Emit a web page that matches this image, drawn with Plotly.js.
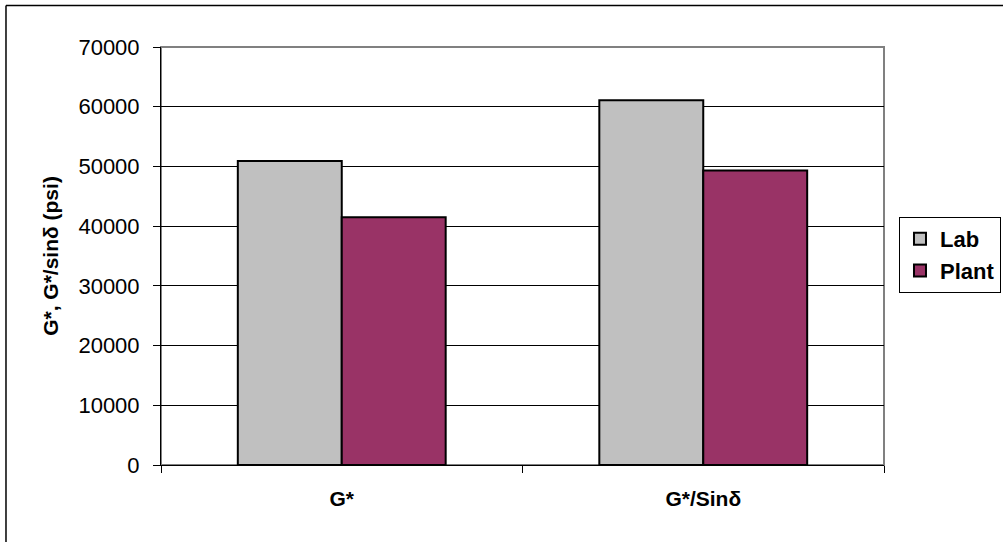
<!DOCTYPE html>
<html>
<head>
<meta charset="utf-8">
<script src="https://cdn.plot.ly/plotly-3.0.1.min.js"></script>
<style>
  html, body { margin: 0; padding: 0; background: #ffffff; }
  #chart { width: 1003px; height: 542px; }
</style>
</head>
<body>
<div id="chart"></div>
<script>
// Binder stiffness parameters, lab-mixed vs plant-mixed
const categories = ["G*", "G*/Sin\u03b4"];
const labValues = [50900, 61100];
const plantValues = [41500, 49300];
const seriesNames = ["Lab", "Plant"];
const yTickValues = [0, 10000, 20000, 30000, 40000, 50000, 60000, 70000];

const FONT = '"Liberation Sans", Arial, sans-serif';

const traces = [
  {
    type: "bar",
    name: seriesNames[0],
    x: categories,
    y: labValues,
    marker: { color: "#C0C0C0", line: { color: "#000000", width: 2 } },
    hoverinfo: "none"
  },
  {
    type: "bar",
    name: seriesNames[1],
    x: categories,
    y: plantValues,
    marker: { color: "#993366", line: { color: "#000000", width: 2 } },
    hoverinfo: "none"
  }
];

const layout = {
  width: 1003,
  height: 542,
  autosize: false,
  paper_bgcolor: "#ffffff",
  plot_bgcolor: "#ffffff",
  margin: { l: 161, r: 119, t: 47, b: 77, pad: 0, autoexpand: false },
  barmode: "group",
  bargap: 0.425,
  bargroupgap: 0,
  font: { family: FONT, color: "#000000" },
  showlegend: true,
  legend: {
    xref: "container", yref: "container",
    x: 0.8963, xanchor: "left",
    y: 0.5996, yanchor: "top",
    bgcolor: "#ffffff",
    bordercolor: "#000000",
    borderwidth: 1,
    font: { family: FONT, size: 22, color: "#000000", weight: "bold" },
    itemwidth: 30,
    tracegroupgap: 0
  },
  xaxis: {
    type: "category",
    showgrid: false,
    showline: true,
    linecolor: "#000000",
    linewidth: 1,
    ticks: "outside",
    tickson: "boundaries",
    ticklen: 7,
    tickcolor: "#000000",
    tickwidth: 1,
    ticklabelstandoff: 15,
    tickfont: { family: FONT, size: 21, color: "#000000", weight: "bold" },
    zeroline: false,
    fixedrange: true
  },
  yaxis: {
    range: [0, 70000],
    tickvals: yTickValues,
    tickformat: "d",
    showgrid: true,
    gridcolor: "#000000",
    gridwidth: 1,
    showline: true,
    linecolor: "#000000",
    linewidth: 1,
    ticks: "outside",
    ticklen: 7,
    tickcolor: "#000000",
    tickwidth: 1,
    ticklabelstandoff: 9,
    tickfont: { family: FONT, size: 22, color: "#000000" },
    zeroline: false,
    fixedrange: true,
    title: {
      text: "G*, G*/sin\u03b4 (psi)",
      font: { family: FONT, size: 21, color: "#000000", weight: "bold" },
      standoff: 14
    }
  },
  shapes: [
    // plot area frame
    {
      type: "rect", xref: "paper", yref: "paper",
      x0: 0, x1: 1, y0: 0, y1: 1,
      line: { color: "#808080", width: 2 },
      layer: "below"
    },
    // outer chart border (top and left edges)
    {
      type: "line", xref: "paper", yref: "paper",
      x0: -0.2144, x1: 1.2, y0: 1.0995, y1: 1.0995,
      line: { color: "#000000", width: 1.5 }
    },
    {
      type: "line", xref: "paper", yref: "paper",
      x0: -0.2144, x1: -0.2144, y0: 1.0995, y1: -0.2,
      line: { color: "#000000", width: 1.5 }
    }
  ]
};

Plotly.newPlot("chart", traces, layout, { staticPlot: true, displayModeBar: false });
</script>
</body>
</html>
